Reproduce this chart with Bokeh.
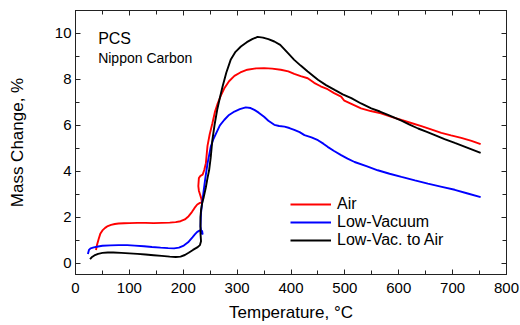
from bokeh.plotting import figure
from bokeh.models import (LinearAxis, Range1d, Label, Legend, LegendItem,
                          SingleIntervalTicker, CustomJSTickFormatter)
from bokeh.embed import file_html
from bokeh.resources import INLINE

# ---- data ----
T_air = [38, 40, 43, 46, 50, 55, 60, 66, 73, 80, 90, 100, 115, 130, 145, 160, 175, 186, 195, 203,
         210, 216, 221, 226, 231, 235, 233, 229, 228, 229, 232, 236, 239, 242, 245, 249, 254, 259, 264, 270,
         276, 285, 295, 306, 319, 335, 350, 365, 381, 395, 406, 418, 431, 443, 455, 468, 480, 493, 499, 515,
         530, 548, 567, 585, 605, 623, 642, 660, 679, 697, 716, 735, 752]
M_air = [0.57, 0.8, 1.05, 1.27, 1.42, 1.53, 1.61, 1.66, 1.7, 1.72, 1.73, 1.74, 1.75, 1.75, 1.74, 1.75, 1.76, 1.78, 1.82, 1.9,
         2.04, 2.22, 2.4, 2.55, 2.62, 2.65, 2.85, 3.15, 3.35, 3.7, 3.8, 3.85, 4.05, 4.35, 5.1, 5.6, 6.08, 6.6, 6.96, 7.3,
         7.6, 7.92, 8.15, 8.3, 8.42, 8.48, 8.49, 8.47, 8.42, 8.35, 8.24, 8.14, 8.05, 7.85, 7.7, 7.57, 7.4, 7.25, 7.07, 6.9,
         6.74, 6.62, 6.52, 6.38, 6.23, 6.1, 5.96, 5.82, 5.67, 5.56, 5.45, 5.32, 5.18]

T_vac = [23, 25, 28, 34, 42, 50, 65, 80, 96, 110, 127, 142, 158, 172, 183, 192, 201, 209, 217, 222,
         226, 231, 235, 236, 234, 232, 233, 235, 238, 241, 245, 251, 256, 261, 268, 276, 285, 295, 305, 316,
         325, 332, 340, 350, 358, 369, 378, 388, 397, 406, 416, 425, 438, 450, 460, 468, 480, 493, 505, 518,
         540, 561, 583, 605, 630, 654, 680, 704, 728, 752]
M_vac = [0.39, 0.57, 0.64, 0.68, 0.72, 0.75, 0.77, 0.78, 0.78, 0.76, 0.73, 0.7, 0.67, 0.65, 0.64, 0.67, 0.76, 0.9, 1.12, 1.26,
         1.36, 1.42, 1.4, 1.25, 1.3, 1.6, 2.2, 2.6, 3.16, 3.7, 4.33, 5.06, 5.4, 5.65, 6.0, 6.23, 6.45, 6.6, 6.7, 6.78,
         6.75, 6.67, 6.55, 6.37, 6.2, 6.02, 5.97, 5.94, 5.88, 5.8, 5.7, 5.57, 5.47, 5.35, 5.2, 5.06, 4.88, 4.7, 4.55, 4.4,
         4.22, 4.04, 3.89, 3.75, 3.6, 3.46, 3.32, 3.19, 3.03, 2.87]

T_va = [27, 30, 35, 42, 50, 60, 70, 85, 100, 115, 130, 145, 160, 175, 186, 195, 203, 210, 218, 226,
        231, 233, 232, 232, 233, 235, 238, 242, 245, 248, 251, 254, 258, 263, 268, 273, 280, 288, 297, 307,
        318, 328, 338, 348, 358, 369, 380, 394, 406, 418, 431, 450, 465, 481, 496, 512, 530, 549, 565, 580,
        605, 620, 636, 651, 667, 685, 704, 728, 752]
M_va = [0.17, 0.25, 0.33, 0.4, 0.44, 0.46, 0.46, 0.44, 0.42, 0.4, 0.37, 0.34, 0.31, 0.28, 0.26, 0.28, 0.35, 0.45, 0.57, 0.68,
        0.78, 0.95, 1.3, 2.0, 2.3, 2.6, 2.87, 3.3, 3.7, 4.04, 4.6, 5.35, 6.0, 6.67, 7.2, 7.69, 8.3, 8.85, 9.2, 9.43,
        9.62, 9.75, 9.85, 9.82, 9.75, 9.65, 9.5, 9.15, 8.85, 8.6, 8.34, 7.98, 7.75, 7.54, 7.35, 7.18, 6.95, 6.74, 6.6, 6.45,
        6.2, 6.03, 5.86, 5.72, 5.57, 5.4, 5.23, 5.02, 4.80]

series_names = ["Air", "Low-Vacuum", "Low-Vac. to Air"]
series_colors = ["#ff0000", "#0000ff", "#000000"]

FONT = "Liberation Sans"

p = figure(width=520, height=325, output_backend="svg", toolbar_location=None,
           x_range=Range1d(0, 800), y_range=Range1d(-0.5, 11),
           min_border_left=75, min_border_right=14, min_border_top=10, min_border_bottom=51)
p.xgrid.visible = False
p.ygrid.visible = False
p.outline_line_color = "#222222"
p.background_fill_color = "white"

def style(ax, labels=True):
    ax.axis_line_color = "#222222"
    ax.major_tick_in = 5
    ax.major_tick_out = 0
    ax.minor_tick_in = 4
    ax.minor_tick_out = 0
    ax.major_tick_line_color = "#222222"
    ax.minor_tick_line_color = "#222222"
    if labels:
        ax.major_label_text_font = FONT
        ax.major_label_text_font_size = "15px"
        ax.major_label_text_color = "black"
        ax.axis_label_text_font = FONT
        ax.axis_label_text_font_size = "17px"
        ax.axis_label_text_font_style = "normal"
        ax.axis_label_text_color = "black"
    else:
        ax.formatter = CustomJSTickFormatter(code="return ''")
        ax.major_label_standoff = 0
        ax.axis_label_standoff = 0

p.xaxis.ticker = SingleIntervalTicker(interval=100, num_minor_ticks=2)
p.yaxis.ticker = SingleIntervalTicker(interval=2, num_minor_ticks=2)
style(p.xaxis[0])
style(p.yaxis[0])
p.xaxis.axis_label = "Temperature, °C"
p.yaxis.axis_label = "Mass Change, %"
p.xaxis.major_label_standoff = 8
p.yaxis.major_label_standoff = 4
p.xaxis.axis_label_standoff = 7
p.yaxis.axis_label_standoff = 25

top = LinearAxis(ticker=SingleIntervalTicker(interval=100, num_minor_ticks=2))
right = LinearAxis(ticker=SingleIntervalTicker(interval=2, num_minor_ticks=2))
style(top, labels=False)
style(right, labels=False)
p.add_layout(top, "above")
p.add_layout(right, "right")

data = [(T_air, M_air), (T_vac, M_vac), (T_va, M_va)]
items = []
for (t, m), c, name in zip(data, series_colors, series_names):
    r = p.line(t, m, line_color=c, line_width=1.9)
    items.append(LegendItem(label=name, renderers=[r]))

legend = Legend(items=items, location=(215, 25))
legend.background_fill_alpha = 0
legend.border_line_alpha = 0
legend.label_text_font = FONT
legend.label_text_font_size = "16px"
legend.label_text_color = "black"
legend.glyph_width = 41
legend.glyph_height = 18
legend.label_height = 18
legend.label_standoff = 6
legend.spacing = 0
legend.padding = 0
legend.margin = 0
p.add_layout(legend, "center")

p.add_layout(Label(x=42, y=9.8, text="PCS", text_font=FONT, text_font_size="16px",
                   text_color="black", text_baseline="alphabetic"))
p.add_layout(Label(x=42, y=8.95, text="Nippon Carbon", text_font=FONT, text_font_size="14px",
                   text_color="black", text_baseline="alphabetic"))

open("out.html", "w").write(file_html(p, INLINE))
